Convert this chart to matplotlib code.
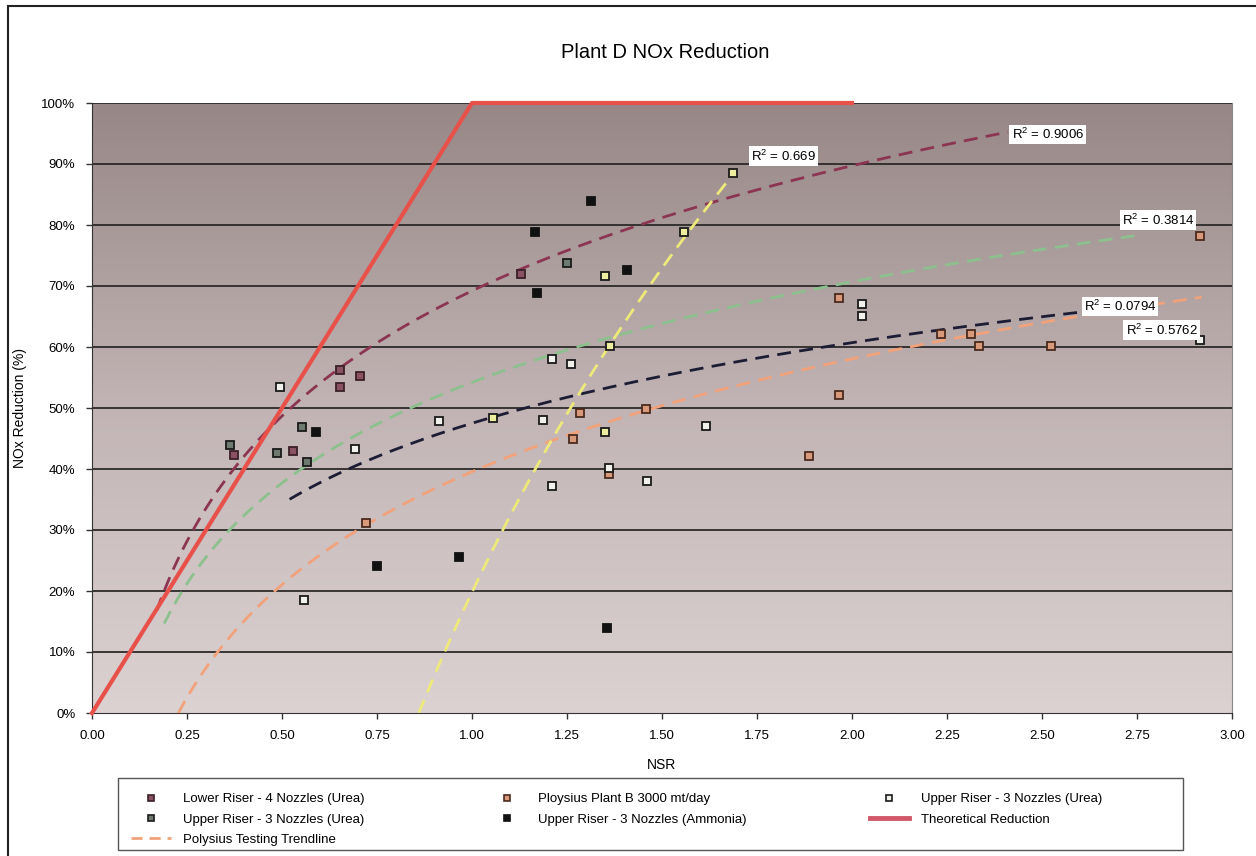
import numpy as np
import matplotlib
matplotlib.use("Agg")
import matplotlib.pyplot as plt
from matplotlib.colors import LinearSegmentedColormap
from matplotlib.lines import Line2D
from matplotlib.patches import Rectangle
from matplotlib.ticker import FuncFormatter, MultipleLocator

plt.rcParams['font.family'] = ['Liberation Sans', 'DejaVu Sans']
plt.rcParams['mathtext.default'] = 'regular'

# data (NSR, NOx reduction %)
lower_riser_x = [0.374, 0.53, 0.653, 0.653, 0.705, 1.128]
lower_riser_y = [42.3, 43.0, 56.3, 53.5, 55.3, 72.0]

upper_urea2_x = [0.362, 0.552, 0.565, 0.486, 1.251]
upper_urea2_y = [43.9, 46.9, 41.1, 42.6, 73.7]

ploysius_x = [0.72, 1.284, 1.265, 1.361, 1.458, 1.888, 1.965, 1.965,
              2.233, 2.312, 2.333, 2.524, 2.916]
ploysius_y = [31.1, 49.1, 45.0, 39.1, 49.9, 42.1, 68.1, 52.1,
              62.1, 62.2, 60.2, 60.2, 78.2]

upper_urea_x = [0.495, 0.692, 0.913, 0.558, 1.21, 1.46, 1.617, 2.025,
                2.025, 1.361, 1.188, 2.916, 1.21, 1.26]
upper_urea_y = [53.5, 43.3, 47.9, 18.6, 37.2, 38.1, 47.1, 67.0,
                65.0, 40.1, 48.0, 61.1, 58.0, 57.2]

yellow_x = [1.056, 1.35, 1.35, 1.363, 1.559, 1.688]
yellow_y = [48.4, 71.6, 46.0, 60.2, 78.8, 88.5]

ammonia_x = [0.589, 0.751, 0.967, 1.356, 1.166, 1.172, 1.314, 1.407]
ammonia_y = [46.0, 24.1, 25.6, 14.0, 78.8, 68.8, 84.0, 72.7]

theory_x = [0.0, 1.0, 2.0]
theory_y = [0.0, 100.0, 100.0]

# log trendlines  y = a*ln(x) + b
trend_a = [29.6, 23.8, 19.06, 26.7, 131.0]
trend_b = [69.2, 54.2, 47.5, 39.55, 19.8]
trend_x0 = [0.17, 0.19, 0.52, 0.227, 0.86]
trend_x1 = [2.41, 2.75, 2.60, 2.92, 1.69]
trend_colors = ["#8c3552", "#8cc08e", "#1c1c34", "#f2a27a", "#eeea7a"]

r2_labels = ["R$^2$ = 0.9006", "R$^2$ = 0.3814", "R$^2$ = 0.0794",
             "R$^2$ = 0.5762", "R$^2$ = 0.669"]
r2_x = [2.42, 2.71, 2.61, 2.72, 1.735]
r2_y = [94.8, 80.8, 66.6, 62.8, 91.3]

fig = plt.figure(figsize=(12.56, 8.56), dpi=100)
ax = fig.add_axes([92/1256, 1-713/856, 1140/1256, 610/856])

# background gradient of the plot area
bg = LinearSegmentedColormap.from_list("bg", ["#dcd2d2", "#c2b4b4", "#978787"])
grad = np.linspace(0, 1, 256).reshape(-1, 1)
ax.imshow(grad, extent=[0, 3, 0, 100], aspect='auto', cmap=bg,
          origin='lower', zorder=0)

for v in range(10, 101, 10):
    ax.axhline(v, color="#2e2a2a", lw=1.3, zorder=1)

for a, b, x0, x1, c in zip(trend_a, trend_b, trend_x0, trend_x1, trend_colors):
    xs = np.linspace(x0, x1, 200)
    ax.plot(xs, a*np.log(xs) + b, color=c, lw=2, ls=(0, (5, 3)), zorder=3)

ax.plot(theory_x, theory_y, color="#e8504a", lw=3, zorder=4, clip_on=False)

ms = 5.5
st_lower = dict(mfc="#8a5262", mec="#3a2028")
st_uu2 = dict(mfc="#6e7a70", mec="#1a1a1a")
st_ploy = dict(mfc="#d89a7a", mec="#4a2a1e")
st_uu = dict(mfc="#f2f0ea", mec="#1a1a1a")
st_yel = dict(mfc="#eeeea0", mec="#1a1a1a")
st_amm = dict(mfc="#111111", mec="#111111")

ax.plot(lower_riser_x, lower_riser_y, 's', ms=ms, mew=1.3, zorder=5, **st_lower)
ax.plot(upper_urea2_x, upper_urea2_y, 's', ms=ms, mew=1.3, zorder=5, **st_uu2)
ax.plot(ploysius_x, ploysius_y, 's', ms=ms, mew=1.3, zorder=5, **st_ploy)
ax.plot(upper_urea_x, upper_urea_y, 's', ms=ms, mew=1.3, zorder=5, **st_uu)
ax.plot(yellow_x, yellow_y, 's', ms=ms, mew=1.3, zorder=5, **st_yel)
ax.plot(ammonia_x, ammonia_y, 's', ms=ms, mew=1.3, zorder=5, **st_amm)

for t, x, y in zip(r2_labels, r2_x, r2_y):
    ax.text(x, y, t, fontsize=9.5, va='center', ha='left', zorder=6,
            bbox=dict(facecolor='white', edgecolor='none', pad=1.5))

ax.set_xlim(0, 3)
ax.set_ylim(0, 100)
ax.xaxis.set_major_locator(MultipleLocator(0.25))
ax.yaxis.set_major_locator(MultipleLocator(10))
ax.xaxis.set_major_formatter(FuncFormatter(lambda v, p: f"{v:.2f}"))
ax.yaxis.set_major_formatter(FuncFormatter(lambda v, p: f"{v:.0f}%"))
ax.tick_params(labelsize=9.5, length=4, width=1, color="#333333", pad=8)
ax.spines["top"].set_visible(False)
ax.spines["right"].set_color("#888888")
ax.spines["left"].set_color("#333333")
ax.spines["bottom"].set_color("#333333")
ax.set_xlabel("NSR", fontsize=10, labelpad=12)
ax.set_ylabel("NOx Reduction (%)", fontsize=10, labelpad=10)

fig.text(0.53, 1-52/856, "Plant D NOx Reduction", ha='center', va='center', fontsize=14.5)

# outer frame
fig.patches.append(Rectangle((8/1256, -0.05), 1.2, 1-6/856+0.05, transform=fig.transFigure,
                             fill=False, edgecolor="#222222", lw=1.5))
# legend frame
fig.patches.append(Rectangle((118/1256, 6/856), 1065/1256, 72/856, transform=fig.transFigure,
                             facecolor="white", edgecolor="#555555", lw=1.0))

mk = dict(marker='s', ls='none', ms=4.5, mew=1.2)
h_lower = Line2D([], [], label="Lower Riser - 4 Nozzles (Urea)", **mk, **st_lower)
h_ploy = Line2D([], [], label="Ploysius Plant B 3000 mt/day", **mk, **st_ploy)
h_uu = Line2D([], [], label="Upper Riser - 3 Nozzles (Urea)", **mk, **st_uu)
h_uu2 = Line2D([], [], label="Upper Riser - 3 Nozzles (Urea)", **mk, **st_uu2)
h_amm = Line2D([], [], label="Upper Riser - 3 Nozzles (Ammonia)", **mk, **st_amm)
h_th = Line2D([], [], color="#d05868", lw=3.5, label="Theoretical Reduction")
h_pt = Line2D([], [], color="#f2a27a", lw=2, ls=(0, (4, 2.5)), label="Polysius Testing Trendline")

leg = fig.legend(handles=[h_lower, h_uu2, h_pt, h_ploy, h_amm, h_uu, h_th],
                 ncol=3, loc='upper left', bbox_to_anchor=(122/1256, 1-784/856),
                 fontsize=9.5, frameon=False, borderpad=0.2,
                 labelspacing=0.6, handlelength=3, handletextpad=0.9,
                 columnspacing=9.3)

fig.savefig("out.png", dpi=100)
